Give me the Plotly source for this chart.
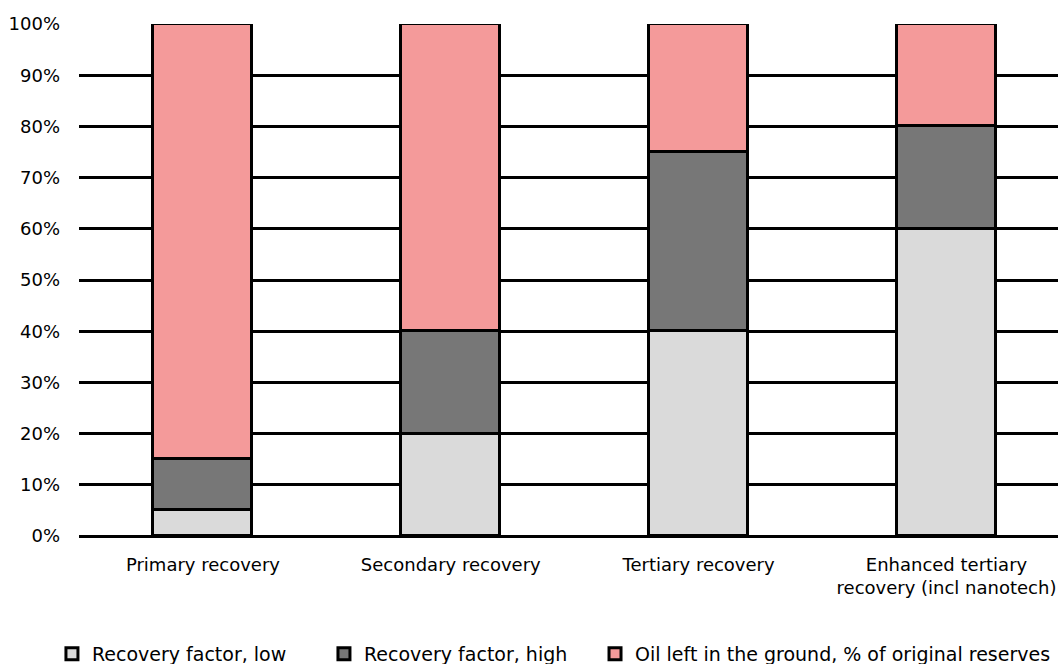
import plotly.graph_objects as go

# Recovery stages and the share of original reserves in each bucket (%)
categories = [
    "Primary recovery",
    "Secondary recovery",
    "Tertiary recovery",
    "Enhanced tertiary<br>recovery (incl nanotech)",
]
recovery_low = [5, 20, 40, 60]
recovery_high = [10, 20, 35, 20]
oil_left = [85, 60, 25, 20]

y_ticks = [0, 10, 20, 30, 40, 50, 60, 70, 80, 90, 100]
y_tick_labels = [f"{v}%" for v in y_ticks]

series = [
    ("Recovery factor, low", recovery_low, "#dadada"),
    ("Recovery factor, high", recovery_high, "#777777"),
    ("Oil left in the ground, % of original reserves", oil_left, "#f49a9a"),
]

FONT = "DejaVu Sans, Liberation Sans, Arial, sans-serif"

# One legend per series so each entry sits at its own horizontal slot
legend_ids = ["legend", "legend2", "legend3"]
legend_x = [0.0491, 0.3062, 0.5624]

fig = go.Figure()
for (name, values, color), lid in zip(series, legend_ids):
    fig.add_trace(
        go.Bar(
            x=list(range(len(categories))),
            y=values,
            name=name,
            width=0.4,
            legend=lid,
            showlegend=True,
            marker=dict(color=color, line=dict(color="black", width=3)),
        )
    )

legend_style = dict(
    orientation="h",
    xref="container",
    yref="container",
    xanchor="left",
    y=0.0437,
    yanchor="top",
    font=dict(family=FONT, size=19, color="black"),
    itemclick=False,
    bgcolor="rgba(0,0,0,0)",
)

fig.update_layout(
    barmode="stack",
    width=1058,
    height=664,
    showlegend=True,
    margin=dict(l=79, r=0, t=24, b=128, autoexpand=False),
    plot_bgcolor="white",
    paper_bgcolor="white",
    font=dict(family=FONT, size=18, color="black"),
    bargap=0,
    legend=dict(x=legend_x[0], **legend_style),
    legend2=dict(x=legend_x[1], **legend_style),
    legend3=dict(x=legend_x[2], **legend_style),
)

fig.update_xaxes(
    range=[-0.5, 3.45],
    tickmode="array",
    tickvals=list(range(len(categories))),
    ticktext=categories,
    showgrid=False,
    showline=False,
    zeroline=False,
    ticks="",
    automargin=False,
    ticklabelstandoff=16,
    tickfont=dict(family=FONT, size=18, color="black"),
)

fig.update_yaxes(
    range=[0, 100],
    tickmode="array",
    tickvals=y_ticks,
    ticktext=y_tick_labels,
    showgrid=True,
    gridcolor="black",
    gridwidth=3,
    zeroline=True,
    zerolinecolor="black",
    zerolinewidth=3,
    showline=False,
    ticks="",
    automargin=False,
    ticklabelstandoff=18,
    tickfont=dict(family=FONT, size=18, color="black"),
)

fig.write_html("out.html")
